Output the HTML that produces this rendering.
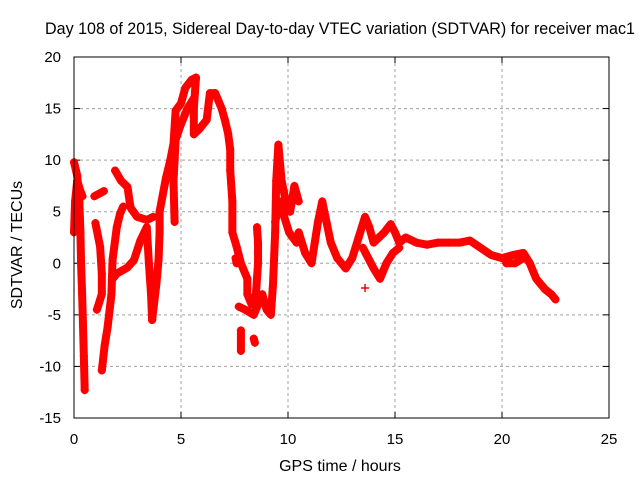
<!DOCTYPE html>
<html><head><meta charset="utf-8"><style>
body{margin:0;background:#fff;}
svg text{font-family:"Liberation Sans",sans-serif;font-size:15px;fill:#000;}
</style></head><body>
<svg id="chart" width="640" height="480" xmlns="http://www.w3.org/2000/svg">
<rect width="640" height="480" fill="#fff"/>
<text x="340" y="34" text-anchor="middle" style="font-size:16.5px" textLength="590" lengthAdjust="spacingAndGlyphs">Day 108 of 2015, Sidereal Day-to-day VTEC variation (SDTVAR) for receiver mac1</text>
<text x="340" y="471" text-anchor="middle" style="font-size:16px">GPS time / hours</text>
<text transform="translate(22,245) rotate(-90)" text-anchor="middle" style="font-size:16px">SDTVAR / TECUs</text>
<g id="grid"></g><g id="ticks"></g><g id="marks"></g>
<rect x="74" y="57" width="535" height="361" fill="none" stroke="#000" stroke-width="1"/>
</svg>
<script>
const xTicks=[0,5,10,15,20,25];
const yTicks=[-15,-10,-5,0,5,10,15,20];
const seg1=[[0,9.8],[0.15,8.5],[0.25,6],[0.3,3],[0.33,0],[0.38,-3],[0.42,-6],[0.46,-9],[0.5,-12.3]];
const seg2=[[0,3],[0.05,6],[0.15,8],[0.3,7],[0.4,6.5]];
const seg3=[[0.95,6.5],[1.4,7]];
const seg4=[[1.0,3.9],[1.22,1.6],[1.3,-1],[1.3,-3],[1.07,-4.5]];
const seg5=[[1.3,-10.4],[1.43,-8],[1.57,-6.2],[1.75,-3],[1.8,0.3],[2.0,3.5],[2.15,4.8],[2.3,5.5]];
const seg6=[[1.92,9],[2.2,8],[2.5,7.4],[2.64,5.4],[2.95,4.5],[3.41,4.2],[3.7,4.5]];
const seg7=[[1.77,-1.6],[2.0,-1],[2.5,-0.4],[2.8,0.3],[3.1,2.2],[3.4,3.5],[3.5,0],[3.6,-3],[3.65,-5.5]];
const seg8=[[3.65,-5.5],[3.85,-2],[3.95,0.3],[4.0,3],[4.0,5],[4.3,8.3],[4.5,10],[4.65,11.6],[4.75,14.8],[5.0,15.5],[5.2,17],[5.5,17.8],[5.7,18]];
const seg9=[[4.7,4],[4.65,8],[4.75,12],[5.0,13.5],[5.3,15],[5.6,16]];
const seg10=[[5.7,18],[5.6,15],[5.6,12.5],[5.85,13],[6.2,13.9],[6.35,16.5],[6.6,16.5],[6.9,15],[7.05,13.9],[7.2,12.6],[7.3,11],[7.3,9],[7.4,6],[7.4,3],[7.6,1.6],[7.8,0],[8.1,-1.5],[8.1,-3],[8.3,-4],[8.5,-3],[8.6,0],[8.6,2],[8.55,3.5]];
const seg11=[[7.7,-4.2],[8.0,-4.5],[8.4,-5],[8.8,-3],[9.0,-4.5],[9.2,-5],[9.3,-2],[9.4,3],[9.45,8],[9.55,11.5],[9.7,8],[9.9,6],[10.1,5],[10.3,7.5],[10.5,6]];
const seg12=[[7.8,-6.5],[7.8,-8.5]];
const seg13=[[8.4,-7.3],[8.45,-7.7]];
const seg14=[[9.4,4],[9.6,6],[10.05,3],[10.4,2],[10.5,3],[10.8,1],[11.1,0],[11.4,4],[11.6,6],[11.8,4],[12.0,2],[12.3,0.5],[12.7,-0.5],[13.0,0.5],[13.3,2.5],[13.6,4.5],[13.8,3.5],[14.0,2],[14.5,3],[14.8,3.8],[15.0,3],[15.2,2],[15.5,2.5],[16,2],[16.5,1.8],[17,2],[17.5,2],[18,2],[18.5,2.2],[19,1.5],[19.5,0.8],[20,0.5],[20.5,0.8],[21,1],[21.3,0],[21.6,-1.5],[22,-2.5],[22.3,-3],[22.5,-3.5]];
const seg15=[[13.5,1.5],[14.0,-0.5],[14.3,-1.5],[14.6,0],[14.9,1],[15.2,1.5]];
const seg16=[[20.2,0],[20.6,0],[21,0.5]];
const seg17=[[7.55,0.5],[7.6,0]];
const seg18=[[13.6,-2.4]];
const series=[seg1,seg2,seg3,seg4,seg5,seg6,seg7,seg8,seg9,seg10,seg11,seg12,seg13,seg14,seg15,seg16,seg17,seg18];
const X0=74,X1=609,Y0=418,Y1=57;
const xs=t=>X0+(t-0)/(25-0)*(X1-X0);
const ys=v=>Y0-(v+15)/(20+15)*(Y0-Y1);
const NS="http://www.w3.org/2000/svg";
const grid=document.getElementById('grid'),ticks=document.getElementById('ticks'),marks=document.getElementById('marks');
function mk(tag,attrs,parent){const e=document.createElementNS(NS,tag);for(const k in attrs)e.setAttribute(k,attrs[k]);parent.appendChild(e);return e;}
xTicks.forEach(t=>{const x=xs(t);
 if(t>0&&t<25){const g=mk('line',{x1:x,x2:x,y1:Y1,y2:Y0,stroke:'#a0a0a0','stroke-dasharray':'3,3'},grid);
 
 }
 mk('line',{x1:x,x2:x,y1:Y0,y2:Y0-6,stroke:'#000'},ticks);
 mk('line',{x1:x,x2:x,y1:Y1,y2:Y1+6,stroke:'#000'},ticks);
 const l=mk('text',{x:x,y:444,'text-anchor':'middle'},ticks);l.textContent=t;
 
 });
yTicks.forEach(v=>{const y=ys(v);
 if(v>-15&&v<20){const g=mk('line',{x1:X0,x2:X1,y1:y,y2:y,stroke:'#a0a0a0','stroke-dasharray':'3,3'},grid);
 
 }
 mk('line',{x1:X0,x2:X0+6,y1:y,y2:y,stroke:'#000'},ticks);
 mk('line',{x1:X1,x2:X1-6,y1:y,y2:y,stroke:'#000'},ticks);
 const l=mk('text',{x:61,y:y+5,'text-anchor':'end'},ticks);l.textContent=v;
 
 });
series.forEach((s,i)=>{
 const pl=mk('polyline',{points:s.map(p=>xs(p[0])+','+ys(p[1])).join(' '),fill:'none',stroke:'#ff0000','stroke-width':8,'stroke-linejoin':'round','stroke-linecap':'round'},marks);
 
 
 s.forEach(p=>{const x=xs(p[0]),y=ys(p[1]);
  const m=mk('path',{d:`M${x-4},${y}H${x+4}M${x},${y-4}V${y+4}`,stroke:'#ff0000','stroke-width':1.5},marks);
  
  });
});
</script>
</body></html>
